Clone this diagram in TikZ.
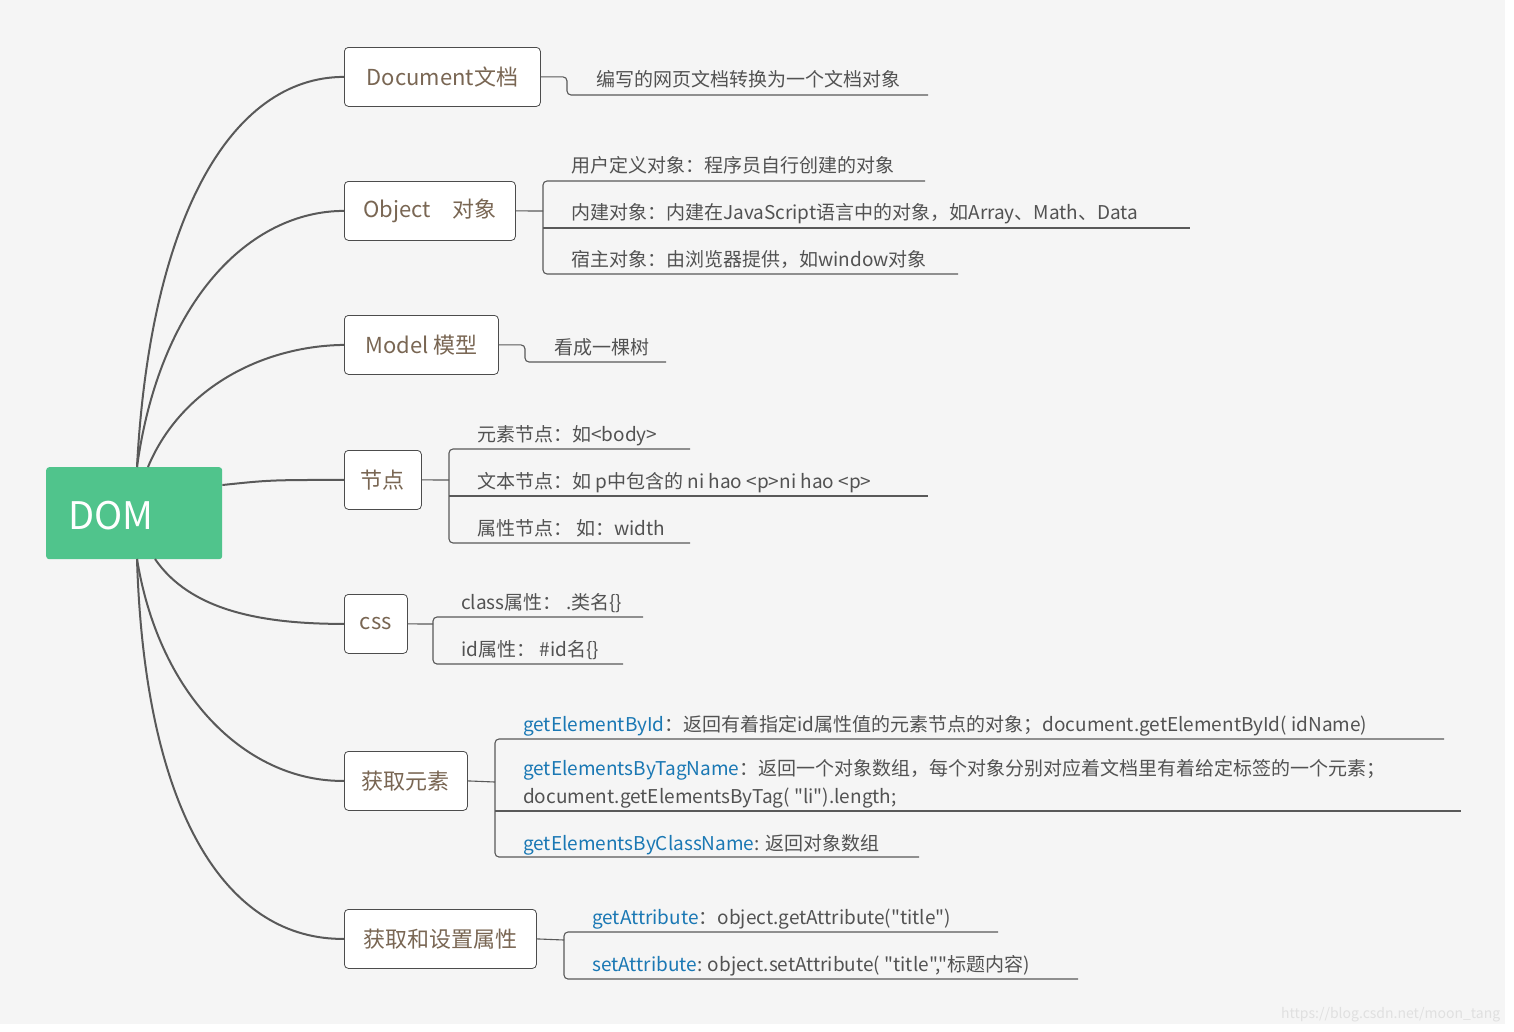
\documentclass[tikz,border=0pt]{standalone}
\usepackage{fontspec}
\setmainfont{Noto Sans CJK SC}[Ligatures=TeXOff]
\begin{document}
\begin{tikzpicture}[x=1pt,y=-1pt,
  topic/.style={draw=black!70,line width=0.8pt,rounded corners=4pt,fill=white,text=brown!40!black!75,font=\fontsize{22}{26}\selectfont,anchor=west,minimum height=59pt,inner xsep=15pt},
  leaf/.style={anchor=base west,inner sep=0pt,text=black!68,font=\fontsize{19}{23}\selectfont},
  br/.style={draw=black!65,line width=1.1pt,rounded corners=4pt},
  ul/.style={draw=black!65,line width=1.1pt},
  cv/.style={draw=black!65,line width=2pt}]
\fill[white] (0,0) rectangle (1514,1031);
\fill[black!4] (0,0) rectangle (1505,1024);
\node[leaf,text=black!12,font=\fontsize{14}{16}\selectfont] (wm) at (1281,1018) {https://blog.csdn.net/moon\_tang};
\definecolor{domg}{HTML}{50C48C}
\definecolor{blu}{HTML}{1A78B4}
\node[fill=domg,rounded corners=3pt,minimum width=176pt,minimum height=92pt,anchor=north west] (dom) at (46,467) {};
\node[anchor=west,text=white,font=\fontsize{38}{42}\selectfont,inner sep=0pt] (domt) at (68,516) {DOM};
% topics
\node[topic,minimum width=196pt,anchor=north west] (t1) at (344,47) {Document文档};
\node[topic,minimum width=171pt,anchor=north west] (t2) at (344,181) {Object\quad 对象};
\node[topic,minimum width=154pt,anchor=north west] (t3) at (344,315) {Model 模型};
\node[topic,minimum width=77pt,anchor=north west] (t4) at (344,450) {节点};
\node[topic,minimum width=63pt,anchor=north west] (t5) at (344,594) {css};
\node[topic,minimum width=123pt,anchor=north west] (t6) at (344,751) {获取元素};
\node[topic,minimum width=192pt,anchor=north west] (t7) at (344,909) {获取和设置属性};
% curves
\coordinate (a) at (137,467); \coordinate (b) at (148,467);
\coordinate (c) at (137,559); \coordinate (d) at (155,559);
\draw[cv] (a) .. controls (150,220) and (230,77) .. (t1.west);
\draw[cv] (a) .. controls (160,300) and (250,211) .. (t2.west);
\draw[cv] (b) .. controls (180,390) and (260,346) .. (t3.west);
\draw[cv] (dom.east |- 0,485) .. controls (270,480) .. (t4.west);
\draw[cv] (d) .. controls (190,610) and (260,624) .. (t5.west);
\draw[cv] (c) .. controls (160,700) and (250,782) .. (t6.west);
\draw[cv] (c) .. controls (145,820) and (230,940) .. (t7.west);
% Document
\draw[br] (t1.east) -| (567,95) -- (928,95);
\node[leaf] (l11) at (596,86) {编写的网页文档转换为一个文档对象};
% Object
\draw[br] (t2.east) -- (543,211);
\draw[br] (925,181) -- (543,181) -- (543,274) -- (958,274);
\draw[ul] (543,228) -- (1190,228);
\node[leaf] (l21) at (571,172) {用户定义对象：程序员自行创建的对象};
\node[leaf] (l22) at (571,219) {内建对象：内建在JavaScript语言中的对象，如Array、Math、Data};
\node[leaf] (l23) at (571,266) {宿主对象：由浏览器提供，如window对象};
% Model
\draw[br] (t3.east) -| (525,362) -- (666,362);
\node[leaf] (l31) at (554,354) {看成一棵树};
% 节点
\draw[br] (t4.east) -- (449,480);
\draw[br] (690,449) -- (449,449) -- (449,543) -- (690,543);
\draw[ul] (449,496) -- (928,496);
\node[leaf] (l41) at (477,441) {元素节点：如<body>};
\node[leaf] (l42) at (477,488) {文本节点：如 p中包含的 ni hao <p>ni hao <p>};
\node[leaf] (l43) at (477,535) {属性节点： 如：width};
% css
\draw[br] (t5.east) -- (433,624);
\draw[br] (643,617) -- (433,617) -- (433,664) -- (623,664);
\node[leaf] (l51) at (461,609) {class属性： .类名\{\}};
\node[leaf] (l52) at (461,656) {id属性： \#id名\{\}};
% 获取元素
\draw[br] (t6.east) -- (495,782);
\draw[br] (1444,739) -- (495,739) -- (495,857) -- (919,857);
\draw[ul] (495,811) -- (1461,811);
\node[leaf] (l61) at (523,731) {\textcolor{blu}{getElementById}：返回有着指定id属性值的元素节点的对象；document.getElementById( idName)};
\node[leaf] (l62) at (523,775) {\textcolor{blu}{getElementsByTagName}：返回一个对象数组，每个对象分别对应着文档里有着给定标签的一个元素；};
\node[leaf] (l63) at (523,803) {document.getElementsByTag( "li").length;};
\node[leaf] (l64) at (523,850) {\textcolor{blu}{getElementsByClassName}: 返回对象数组};
% 属性
\draw[br] (t7.east) -- (564,940);
\draw[br] (998,932) -- (564,932) -- (564,979) -- (1078,979);
\node[leaf] (l71) at (592,924) {\textcolor{blu}{getAttribute}：object.getAttribute("title")};
\node[leaf] (l72) at (592,971) {\textcolor{blu}{setAttribute}: object.setAttribute( "title","标题内容)};
\end{tikzpicture}
\end{document}
